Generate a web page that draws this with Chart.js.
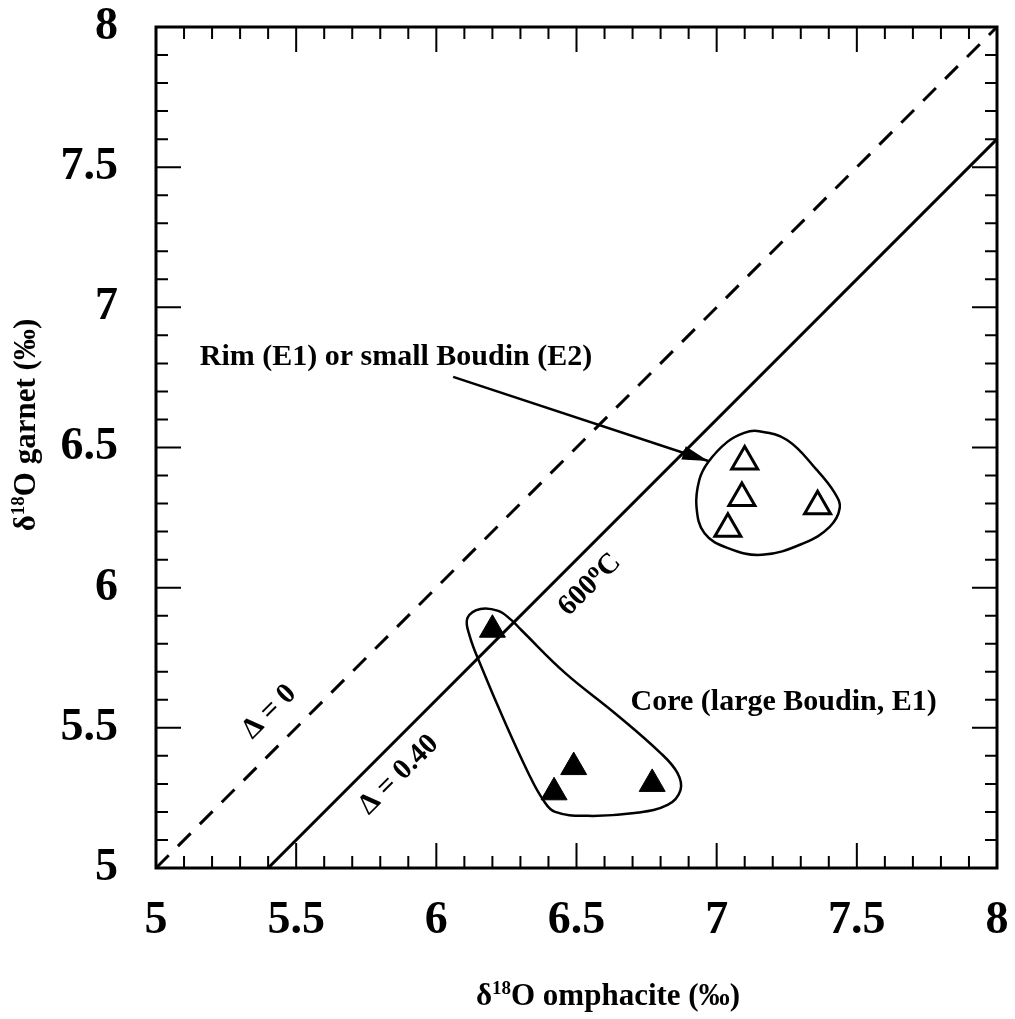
<!DOCTYPE html>
<html>
<head>
<meta charset="utf-8">
<script src="https://cdn.jsdelivr.net/npm/chart.js@4.4.1/dist/chart.umd.min.js"></script>
<style>
  body { margin: 0; background: #fff; }
  canvas { display: block; }
</style>
</head>
<body>
<canvas id="myChart" width="1015" height="1019"></canvas>
<script>
// Values
const tickValues = [5, 5.5, 6, 6.5, 7, 7.5, 8];

// Rim (E1) or small boudin (E2) - open triangles
const rimX = [7.10, 7.09, 7.36, 7.04];
const rimY = [6.45, 6.32, 6.29, 6.21];

// Core (large boudin, E1) - filled triangles
const coreX = [6.20, 6.49, 6.42, 6.77];
const coreY = [5.85, 5.36, 5.27, 5.30];

// Reference lines
const equalX = [5, 8];
const equalY = [5, 8];
const delta40X = [5.4, 8];
const delta40Y = [5.0, 7.6];

// Hand drawn outlines round the groups
const rimHullX = [7.144, 7.251, 7.357, 7.421, 7.439, 7.403, 7.311, 7.162, 7.038, 6.956, 6.928, 6.938, 6.970, 7.038, 7.098];
const rimHullY = [6.559, 6.527, 6.420, 6.338, 6.284, 6.217, 6.159, 6.117, 6.142, 6.195, 6.288, 6.384, 6.448, 6.520, 6.552];
const coreHullX = [6.157, 6.221, 6.267, 6.303, 6.459, 6.636, 6.800, 6.860, 6.871, 6.825, 6.707, 6.541, 6.424, 6.381, 6.328, 6.246, 6.161, 6.118, 6.111];
const coreHullY = [5.924, 5.917, 5.885, 5.849, 5.696, 5.553, 5.410, 5.339, 5.278, 5.225, 5.196, 5.186, 5.200, 5.243, 5.339, 5.517, 5.717, 5.831, 5.892];

// Arrow pointing at the rim group
const arrowX = [6.06, 6.97];
const arrowY = [6.752, 6.452];

const FONT = "'Liberation Serif', 'Times New Roman', serif";

function toPoints(xs, ys) {
    return xs.map((x, i) => ({ x: x, y: ys[i] }));
}

// wrap the outline so the smoothing closes without a kink,
// the two extra segments are hidden
function closedLoop(xs, ys) {
    const pts = toPoints(xs, ys);
    const n = pts.length;
    return [pts[n - 1], ...pts, pts[0], pts[1]];
}

function loopDataset(xs, ys) {
    const data = closedLoop(xs, ys);
    const last = data.length - 1;
    return {
        type: 'line',
        data: data,
        borderColor: '#000',
        borderWidth: 2.5,
        pointRadius: 0,
        tension: 0.4,
        fill: false,
        segment: {
            borderColor: c => (c.p0DataIndex === 0 || c.p1DataIndex === last) ? 'rgba(0,0,0,0)' : '#000'
        }
    };
}

// text with a raised part, e.g. delta 18 O
function richWidth(ctx, parts) {
    let w = 0;
    parts.forEach(p => {
        ctx.font = 'bold ' + p.size + 'px ' + FONT;
        w += ctx.measureText(p.t).width;
    });
    return w;
}

function drawRich(ctx, parts, x, y) {
    let cx = x;
    parts.forEach(p => {
        ctx.font = 'bold ' + p.size + 'px ' + FONT;
        ctx.fillText(p.t, cx, y - (p.rise || 0));
        cx += ctx.measureText(p.t).width;
    });
}

// keep the plot box where the figure has it
function noPadding(s) {
    s.paddingTop = 0;
    s.paddingBottom = 0;
    s.paddingLeft = 0;
    s.paddingRight = 0;
}

const decorations = {
    id: 'decorations',
    afterDatasetsDraw(chart) {
        const { ctx, scales: { x, y } } = chart;
        // arrow head
        const x0 = x.getPixelForValue(arrowX[0]), y0 = y.getPixelForValue(arrowY[0]);
        const x1 = x.getPixelForValue(arrowX[1]), y1 = y.getPixelForValue(arrowY[1]);
        const ang = Math.atan2(y1 - y0, x1 - x0);
        const len = 26, half = 7;
        ctx.save();
        ctx.fillStyle = '#000';
        ctx.beginPath();
        ctx.moveTo(x1, y1);
        ctx.lineTo(x1 - len * Math.cos(ang) + half * Math.sin(ang), y1 - len * Math.sin(ang) - half * Math.cos(ang));
        ctx.lineTo(x1 - len * Math.cos(ang) - half * Math.sin(ang), y1 - len * Math.sin(ang) + half * Math.cos(ang));
        ctx.closePath();
        ctx.fill();
        ctx.restore();
    },
    afterDraw(chart) {
        const { ctx, chartArea: a, scales: { x, y } } = chart;
        ctx.save();
        ctx.strokeStyle = '#000';
        ctx.fillStyle = '#000';

        // inward ticks on all four sides
        ctx.lineWidth = 2;
        ctx.beginPath();
        for (let i = 1; i < 30; i++) {
            const v = 5 + i / 10;
            const len = i % 5 === 0 ? 25 : 12;
            const px = x.getPixelForValue(v);
            const py = y.getPixelForValue(v);
            ctx.moveTo(px, a.bottom); ctx.lineTo(px, a.bottom - len);
            ctx.moveTo(px, a.top); ctx.lineTo(px, a.top + len);
            ctx.moveTo(a.left, py); ctx.lineTo(a.left + len, py);
            ctx.moveTo(a.right, py); ctx.lineTo(a.right - len, py);
        }
        ctx.stroke();

        // frame
        ctx.lineWidth = 3;
        ctx.strokeRect(a.left, a.top, a.right - a.left, a.bottom - a.top);

        // axis titles
        ctx.textAlign = 'left';
        ctx.textBaseline = 'alphabetic';
        const xTitle = [
            { t: '\u03b4', size: 31 },
            { t: '18', size: 19, rise: 11 },
            { t: 'O omphacite (\u2030)', size: 31 }
        ];
        const wx = richWidth(ctx, xTitle);
        drawRich(ctx, xTitle, 740 - wx, 1005);

        const yTitle = [
            { t: '\u03b4', size: 31 },
            { t: '18', size: 19, rise: 11 },
            { t: 'O garnet (\u2030)', size: 31 }
        ];
        const wy = richWidth(ctx, yTitle);
        ctx.save();
        ctx.translate(35, 425);
        ctx.rotate(-Math.PI / 2);
        drawRich(ctx, yTitle, -wy / 2, 0);
        ctx.restore();

        // group labels
        ctx.font = 'bold 30px ' + FONT;
        ctx.fillText('Rim (E1) or small Boudin (E2)', x.getPixelForValue(5.156), y.getPixelForValue(6.795));
        ctx.fillText('Core (large Boudin, E1)', x.getPixelForValue(6.693), y.getPixelForValue(5.564));

        // labels along the lines
        const lineAng = Math.atan2(
            y.getPixelForValue(8) - y.getPixelForValue(5),
            x.getPixelForValue(8) - x.getPixelForValue(5));
        function rotated(parts, vx, vy) {
            const w = richWidth(ctx, parts);
            ctx.save();
            ctx.translate(x.getPixelForValue(vx), y.getPixelForValue(vy));
            ctx.rotate(lineAng);
            ctx.textBaseline = 'middle';
            drawRich(ctx, parts, -w / 2, 0);
            ctx.restore();
        }
        rotated([{ t: '\u0394 = 0', size: 29 }], 5.405, 5.557);
        rotated([{ t: '\u0394 = 0.40', size: 29 }], 5.866, 5.332);
        rotated([
            { t: '600', size: 29 },
            { t: 'o', size: 22, rise: 7 },
            { t: 'C', size: 29 }
        ], 6.548, 6.010);

        ctx.restore();
    }
};

const ctx = document.getElementById('myChart').getContext('2d');
const myChart = new Chart(ctx, {
    type: 'scatter',
    data: {
        datasets: [
            {
                label: 'Rim (E1) or small Boudin (E2)',
                data: toPoints(rimX, rimY),
                pointStyle: 'triangle',
                pointRadius: 15,
                pointBackgroundColor: '#fff',
                pointBorderColor: '#000',
                pointBorderWidth: 3
            },
            {
                label: 'Core (large Boudin, E1)',
                data: toPoints(coreX, coreY),
                pointStyle: 'triangle',
                pointRadius: 15,
                pointBackgroundColor: '#000',
                pointBorderColor: '#000',
                pointBorderWidth: 1
            },
            {
                type: 'line',
                label: 'arrow',
                data: toPoints(arrowX, arrowY),
                borderColor: '#000',
                borderWidth: 2.5,
                pointRadius: 0
            },
            loopDataset(rimHullX, rimHullY),
            loopDataset(coreHullX, coreHullY),
            {
                type: 'line',
                label: 'Delta = 0',
                data: toPoints(equalX, equalY),
                borderColor: '#000',
                borderWidth: 3,
                borderDash: [18, 13],
                pointRadius: 0
            },
            {
                type: 'line',
                label: 'Delta = 0.40',
                data: toPoints(delta40X, delta40Y),
                borderColor: '#000',
                borderWidth: 3,
                pointRadius: 0
            }
        ]
    },
    options: {
        responsive: false,
        animation: false,
        layout: { padding: { top: 27, right: 14, left: 0, bottom: 0 } },
        plugins: {
            legend: { display: false },
            tooltip: { enabled: false }
        },
        scales: {
            x: {
                type: 'linear',
                min: 5,
                max: 8,
                afterBuildTicks: s => { s.ticks = tickValues.map(v => ({ value: v })); },
                afterFit: s => { s.height = 151; noPadding(s); },
                grid: { display: false, drawTicks: false },
                border: { display: false },
                ticks: {
                    autoSkip: false,
                    maxRotation: 0,
                    padding: 30,
                    color: '#000',
                    callback: v => String(v),
                    font: { family: FONT, size: 46, weight: 'bold', lineHeight: 1 }
                }
            },
            y: {
                type: 'linear',
                min: 5,
                max: 8,
                afterBuildTicks: s => { s.ticks = tickValues.map(v => ({ value: v })); },
                afterFit: s => { s.width = 156; noPadding(s); },
                grid: { display: false, drawTicks: false },
                border: { display: false },
                ticks: {
                    autoSkip: false,
                    padding: 38,
                    color: '#000',
                    callback: v => String(v),
                    font: { family: FONT, size: 46, weight: 'bold', lineHeight: 1 }
                }
            }
        }
    },
    plugins: [decorations]
});
</script>
</body>
</html>
